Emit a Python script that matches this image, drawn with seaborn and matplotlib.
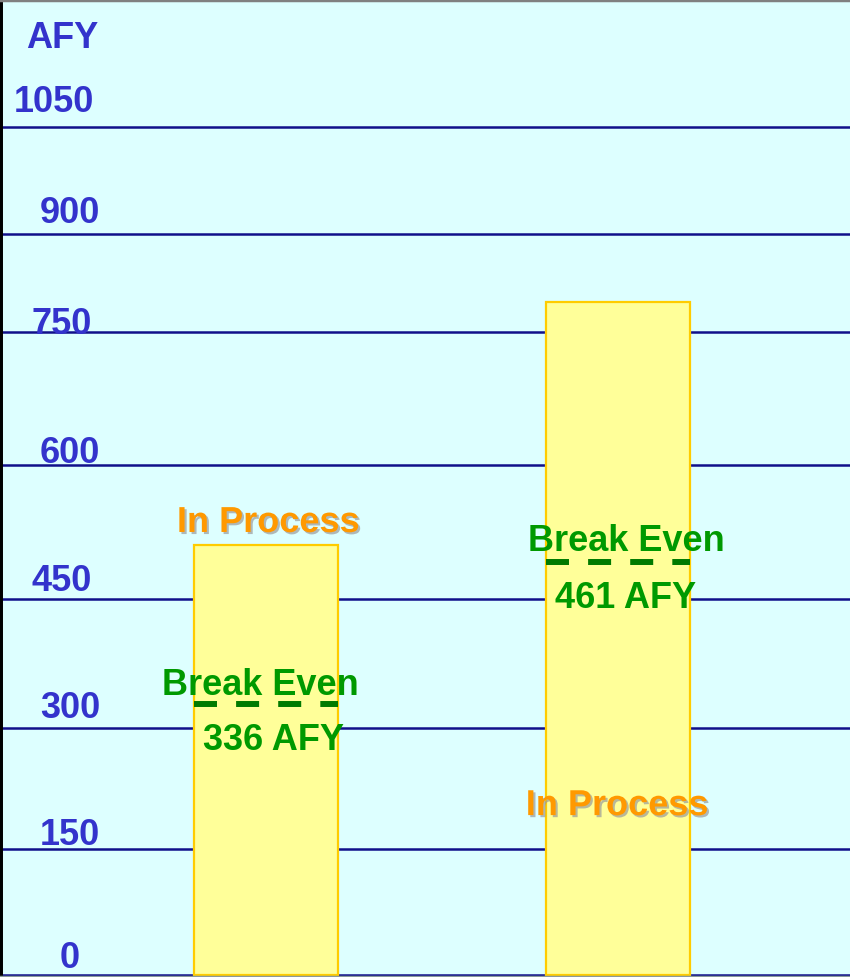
import numpy as np
import pandas as pd
import matplotlib
matplotlib.use('Agg')
import matplotlib.pyplot as plt
import matplotlib.patheffects as pe
import seaborn as sns

# Chart data
projects = ['Project A', 'Project B']
afy_values = [510, 796]                 # bar heights (AFY)
break_even_level = [328, 491]           # where the dashed line sits
break_even_labels = ['336 AFY', '461 AFY']
status_labels = ['In Process', 'In Process']
grid_values = [0, 150, 300, 450, 600, 750, 900, 1050]
tick_labels = ['0', '150', '300', '450', '600', '750', '900', '1050']

df = pd.DataFrame({'project': projects, 'afy': afy_values})

sns.set_style('white')
plt.rcParams['font.family'] = ['Liberation Sans', 'DejaVu Sans']
plt.rcParams['font.weight'] = 'bold'

# the slide's value axis is not quite evenly spaced, so use a piecewise scale
knot_v = [-150] + grid_values + [1350]
knot_h = [-126, 0, 126, 247, 376, 510, 643, 741, 848, 1062]


def fwd(v):
    return np.interp(v, knot_v, knot_h)


def inv(h):
    return np.interp(h, knot_h, knot_v)


fig = plt.figure(figsize=(8.5, 9.77), dpi=100)
fig.patch.set_facecolor('#ddffff')
ax = fig.add_axes([0, 0, 1, 1])
ax.set_facecolor('#ddffff')
ax.set_yscale('function', functions=(fwd, inv))

sns.barplot(data=df, x='project', y='afy', width=0.409, color='#ffff99',
            saturation=1, edgecolor='#ffcc00', linewidth=1.6, ax=ax)

ax.set_xlim(-0.7557, 1.659)
ax.set_ylim(-2.4, 1228)
ax.set_yticks(grid_values)
ax.set_axisbelow(True)
ax.yaxis.grid(True, color='#10108a', lw=1.8)
ax.xaxis.grid(False)
ax.tick_params(left=False, labelleft=False, bottom=False, labelbottom=False)
ax.set_xlabel('')
ax.set_ylabel('')

ax.spines['right'].set_visible(False)
ax.spines['left'].set_color('black')
ax.spines['left'].set_linewidth(4.3)
ax.spines['top'].set_color('#808080')
ax.spines['top'].set_linewidth(2.5)
ax.spines['bottom'].set_color('#8a9a9a')
ax.spines['bottom'].set_linewidth(2.5)

blue = '#3333cc'
green = '#009900'
orange = '#ff9900'
fs = 26

# value axis labels, hand placed on the slide (right edge / rise above line, px)
label_right_px = [80, 100, 100, 92, 100, 92, 100, 94]
label_rise_px = [7, 4, 10, 8, 2, -2, 11, 15]
for v, lab, rx, ry in zip(grid_values, tick_labels, label_right_px, label_rise_px):
    ax.annotate(lab, xy=(0, v), xycoords=ax.get_yaxis_transform(),
                xytext=(rx * 0.72, ry * 0.72), textcoords='offset points',
                ha='right', va='baseline', color=blue, fontsize=fs, fontweight='bold')
ax.text(0.073, 1161, 'AFY', transform=ax.get_yaxis_transform(),
        ha='center', va='baseline', color=blue, fontsize=fs, fontweight='bold')

# break even dashed lines
half = 0.409 / 2
for i, lvl in enumerate(break_even_level):
    ax.hlines(lvl, i - half, i + half, color='#007a00', lw=4.3,
              linestyles=(0, (3.85, 3.2)), zorder=4)

shadow = [pe.withSimplePatchShadow(offset=(1.5, -1.5), shadow_rgbFace='#9a9a9a', alpha=0.7)]

# annotations
ax.text(0.006, 525, status_labels[0], ha='center', va='baseline', color=orange,
        fontsize=fs, fontweight='bold', path_effects=shadow, zorder=5)
ax.text(0.997, 192, status_labels[1], ha='center', va='baseline', color=orange,
        fontsize=fs, fontweight='bold', path_effects=shadow, zorder=5)
ax.text(-0.017, 338, 'Break Even', ha='center', va='baseline', color=green,
        fontsize=fs, fontweight='bold', zorder=5)
ax.text(0.02, 273, break_even_labels[0], ha='center', va='baseline', color=green,
        fontsize=fs, fontweight='bold', zorder=5)
ax.text(1.023, 504, 'Break Even', ha='center', va='baseline', color=green,
        fontsize=fs, fontweight='bold', zorder=5)
ax.text(1.02, 440, break_even_labels[1], ha='center', va='baseline', color=green,
        fontsize=fs, fontweight='bold', zorder=5)

fig.savefig('out.png', dpi=100, facecolor=fig.get_facecolor())
